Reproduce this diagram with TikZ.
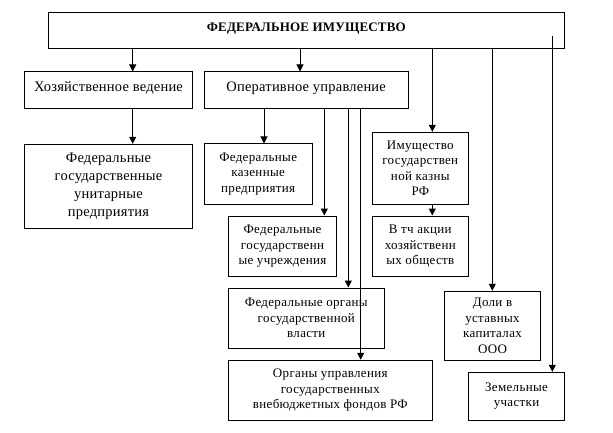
\documentclass[tikz,border=0pt]{standalone}
\usepackage{fontspec}
\setmainfont{Liberation Serif}
\usepackage{tikz}
\usetikzlibrary{arrows.meta}

\begin{document}
\begin{tikzpicture}[x=1pt,y=1pt,
box/.style={draw,line width=1pt,align=center,inner sep=2pt},
big/.style={font=\fontsize{14.5}{17.7}\selectfont\addfontfeature{LetterSpace=1.5}},
small/.style={font=\fontsize{13}{15.5}\selectfont\addfontfeature{LetterSpace=2.5}},
head/.style={text height=10pt,text depth=8pt},
arr/.style={-{Triangle[width=7pt,length=7pt]},line width=1pt}]
\useasboundingbox (0,0) rectangle (613,-433);

% boxes
\node[box,head,font=\bfseries\fontsize{13}{15}\selectfont\addfontfeature{LetterSpace=1.5},
minimum width=516.7pt,minimum height=36pt] (fed) at (306.35,-30.3)
{ФЕДЕРАЛЬНОЕ ИМУЩЕСТВО};
\node[box,big,head,minimum width=168.4pt,minimum height=36.3pt] (hoz)
at (108.5,-90.15) {Хозяйственное ведение};
\node[box,big,head,minimum width=204.3pt,minimum height=36.3pt] (oper)
at (306.15,-90.15) {Оперативное управление};
\node[box,big,minimum width=168.4pt,minimum height=84pt] (fgup)
at (108.5,-186.3) {Федеральные\\государственные\\унитарные\\предприятия};
\node[box,small,minimum width=108.3pt,minimum height=60pt] (kaz)
at (258.15,-174) {Федеральные\\казенные\\предприятия};
\node[box,small,minimum width=108.4pt,minimum height=60.7pt] (uchr)
at (282.5,-246.35) {Федеральные\\государственн\\ые учреждения};
\node[box,small,minimum width=156pt,minimum height=60pt] (organy)
at (306.3,-318) {Федеральные органы\\государственной\\власти};
\node[box,small,minimum width=204pt,minimum height=60pt] (fondy)
at (330.3,-390.3) {Органы управления\\государственных\\внебюджетных фондов РФ};
\node[box,small,minimum width=96pt,minimum height=71.7pt] (kazna)
at (420.3,-168.15) {Имущество\\государствен\\ной казны\\РФ};
\node[box,small,minimum width=96pt,minimum height=60.7pt] (akcii)
at (420.3,-246.35) {В тч акции\\хозяйственн\\ых обществ};
\node[box,small,minimum width=95.6pt,minimum height=69pt] (doli)
at (492.5,-325.8) {Доли в\\уставных\\капиталах\\ООО};
\node[box,small,minimum width=96.4pt,minimum height=48pt] (zem)
at (516.5,-396.3) {Земельные\\участки};

% line positions
\coordinate (c1) at (132.7,0);
\coordinate (c2) at (300,0);
\coordinate (c3) at (432.3,0);
\coordinate (c4) at (492.3,0);
\coordinate (c5) at (552.3,-36);
\coordinate (c6) at (264,0);
\coordinate (c7) at (324.3,0);
\coordinate (c8) at (348.3,0);
\coordinate (c9) at (360.7,0);

% arrows
\draw[arr] (fed.south -| c1) -- (hoz.north -| c1);
\draw[arr] (fed.south -| c2) -- (oper.north -| c2);
\draw[arr] (fed.south -| c3) -- (kazna.north -| c3);
\draw[arr] (fed.south -| c4) -- (doli.north -| c4);
\draw[arr] (c5) -- (zem.north -| c5);
\draw[arr] (hoz.south -| c1) -- (fgup.north -| c1);
\draw[arr] (oper.south -| c6) -- (kaz.north -| c6);
\draw[arr] (oper.south -| c7) -- (uchr.north -| c7);
\draw[arr] (oper.south -| c8) -- (organy.north -| c8);
\draw[arr] (oper.south -| c9) -- (fondy.north -| c9);
\draw[arr] (kazna.south -| c3) -- (akcii.north -| c3);
\end{tikzpicture}
\end{document}
